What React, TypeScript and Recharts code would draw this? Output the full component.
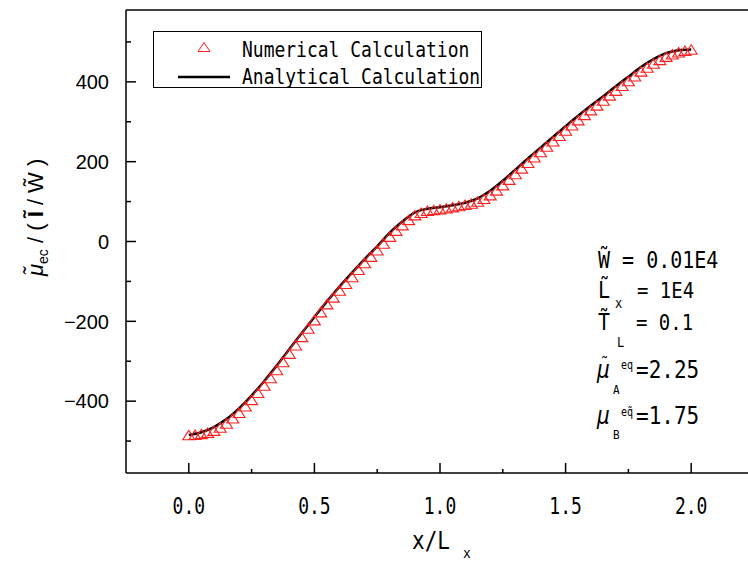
import React from 'react';
import { ComposedChart, Line, Scatter, XAxis, YAxis, Legend, ReferenceLine, Customized } from 'recharts';

const numX = [
  0, 0.025, 0.05, 0.075, 0.1, 0.125, 0.15, 0.175, 0.2, 0.225,
  0.25, 0.275, 0.3, 0.325, 0.35, 0.375, 0.4, 0.425, 0.45, 0.475,
  0.5, 0.525, 0.55, 0.575, 0.6, 0.625, 0.65, 0.675, 0.7, 0.725,
  0.75, 0.775, 0.8, 0.825, 0.85, 0.875, 0.9, 0.925, 0.95, 0.975,
  1.0, 1.025, 1.05, 1.075, 1.1, 1.125, 1.15, 1.175, 1.2, 1.225,
  1.25, 1.275, 1.3, 1.325, 1.35, 1.375, 1.4, 1.425, 1.45, 1.475,
  1.5, 1.525, 1.55, 1.575, 1.6, 1.625, 1.65, 1.675, 1.7, 1.725,
  1.75, 1.775, 1.8, 1.825, 1.85, 1.875, 1.9, 1.925, 1.95, 1.975, 2.0,
];
const numY = [
  -485, -484, -482, -479, -474, -466, -456, -443, -429, -413,
  -397, -379, -361, -342, -322, -302, -281, -260, -239, -218,
  -197, -177, -157, -140, -123, -106, -89, -71, -54, -38,
  -22, -5, 12, 27, 41, 54, 66, 72, 77, 79,
  81, 83, 86, 89, 92, 95, 100, 107, 116, 128,
  141, 155, 169, 183, 197, 211, 224, 238, 251, 265,
  278, 291, 304, 317, 329, 341, 353, 366, 378, 390,
  402, 414, 426, 436, 446, 455, 463, 469, 474, 478, 481,
];
const anaX = [
  0, 0.05, 0.1, 0.15, 0.2, 0.25, 0.3, 0.35, 0.4, 0.45,
  0.5, 0.55, 0.6, 0.65, 0.7, 0.75, 0.8, 0.85, 0.9, 0.95,
  1.0, 1.05, 1.1, 1.15, 1.2, 1.25, 1.3, 1.35, 1.4, 1.45,
  1.5, 1.55, 1.6, 1.65, 1.7, 1.75, 1.8, 1.85, 1.9, 1.95, 2.0,
];
const anaY = [
  -485, -478, -465, -445, -418, -386, -350, -311, -270, -229,
  -189, -150, -113, -78, -44, -12, 22, 50, 73, 82,
  86, 91, 97, 108, 127, 152, 180, 208, 235, 262,
  289, 315, 340, 364, 389, 413, 437, 457, 472, 479, 481,
];
const xTicks = [0, 0.25, 0.5, 0.75, 1, 1.25, 1.5, 1.75, 2];
const xMajor = [0, 0.5, 1, 1.5, 2];
const yTicks = [-500, -400, -300, -200, -100, 0, 100, 200, 300, 400, 500];
const yMajor = [-400, -200, 0, 200, 400];
const seriesNames = ['Numerical Calculation', 'Analytical Calculation'];

const numData = numX.map((x, i) => ({ x, y: numY[i] }));
const anaData = anaX.map((x, i) => ({ x, y: anaY[i] }));

const MONO = "'DejaVu Sans Mono', monospace";
const SANS = "'Liberation Sans', Arial, sans-serif";
const RED = '#ff1f1f';

function MText({ x, y, size, sy = 1.15, anchor = 'start', children, style }: any) {
  return (
    <text
      transform={`translate(${x},${y}) scale(1,${sy})`}
      fontFamily={MONO}
      fontSize={size}
      textAnchor={anchor}
      fill="#000"
      style={style}
    >
      {children}
    </text>
  );
}

const XTick = (props: any) => {
  const { x, y, payload } = props;
  const v = payload.value;
  const major = xMajor.includes(v);
  return (
    <g>
      <line x1={x} x2={x} y1={y} y2={y - (major ? 10 : 4)} stroke="#000" strokeWidth={1.5} />
      {major && (
        <MText x={x} y={y + 41} size={18} sy={1.25} anchor="middle">
          {v.toFixed(1)}
        </MText>
      )}
    </g>
  );
};

const YTick = (props: any) => {
  const { x, y, payload } = props;
  const v = payload.value;
  const major = yMajor.includes(v);
  return (
    <g>
      <line x1={x} x2={x + (major ? 10 : 5)} y1={y} y2={y} stroke="#000" strokeWidth={1.5} />
      {major && (
        <text x={x - 17} y={y} dy="0.36em" textAnchor="end" fontFamily={SANS} fontSize={20} fill="#000">
          {v < 0 ? '\u2212' + Math.abs(v) : String(v)}
        </text>
      )}
    </g>
  );
};

const XLabel = (props: any) => {
  const vb = props.viewBox || { x: 118, y: 465, width: 628, height: 60 };
  const cx = vb.x + vb.width / 2;
  return (
    <g>
      <MText x={cx - 28} y={vb.y + 76} size={21} sy={1.2}>x/L</MText>
      <MText x={cx + 23} y={vb.y + 85} size={13} sy={1.1}>x</MText>
    </g>
  );
};

const YLabel = () => (
  <text transform="translate(35,268) rotate(-90)" fontFamily={SANS} fontSize={22} fill="#000">
    <tspan fontStyle="italic">{'\u03bc\u0303'}</tspan>
    <tspan fontSize={14} dy={5}>ec</tspan>
    <tspan dy={-5}>{' / ( '}</tspan>
    <tspan fontWeight="bold">{'I\u0303'}</tspan>
    <tspan>{' / W\u0303 )'}</tspan>
  </text>
);

const LegendBox = () => (
  <svg width={329} height={60} style={{ display: 'block', overflow: 'visible' }}>
    <rect x={0.5} y={0.5} width={328} height={56} fill="#fff" stroke="#000" strokeWidth={1} />
    <path d="M51,11.5 L57,20.5 L45,20.5 Z" fill="none" stroke={RED} strokeWidth={1} />
    <line x1={25} x2={77} y1={46} y2={46} stroke="#000" strokeWidth={2.5} />
    <MText x={89} y={26} size={18}>{seriesNames[0]}</MText>
    <MText x={89} y={53} size={18}>{seriesNames[1]}</MText>
  </svg>
);

const Annotations = () => (
  <g>
    <MText x={590} y={260} size={20}>{'W\u0303 = 0.01E4'}</MText>
    <MText x={590} y={290} size={20}>{'L\u0303'}</MText>
    <MText x={607} y={300} size={12}>x</MText>
    <MText x={629} y={290} size={19}>= 1E4</MText>
    <MText x={590} y={322} size={20}>{'T\u0303'}</MText>
    <MText x={609} y={339} size={12}>L</MText>
    <MText x={628} y={322} size={19}>= 0.1</MText>
    <MText x={589} y={370} size={21} style={{ fontStyle: 'italic' }}>{'\u03bc'}</MText>
    <MText x={592} y={362} size={15}>{'\u02dc'}</MText>
    <MText x={613} y={361} size={10}>eq</MText>
    <MText x={605} y={386} size={11}>A</MText>
    <MText x={628} y={370} size={21}>=2.25</MText>
    <MText x={589} y={416} size={21} style={{ fontStyle: 'italic' }}>{'\u03bc'}</MText>
    <MText x={613} y={408} size={10}>{'eq\u0303'}</MText>
    <MText x={605} y={431} size={11}>B</MText>
    <MText x={628} y={416} size={21}>=1.75</MText>
  </g>
);

const Triangle = (props: any) => {
  const { cx, cy } = props;
  if (cx == null || cy == null) return null;
  return (
    <path
      d={`M${cx},${cy - 4.7} L${cx + 6},${cy + 4.7} L${cx - 6},${cy + 4.7} Z`}
      fill="none"
      stroke={RED}
      strokeWidth={1.1}
    />
  );
};

export default function App() {
  return (
    <div style={{ position: 'absolute', left: 8, top: 8, width: 740, height: 554, overflow: 'hidden', background: '#fff' }}>
      <ComposedChart width={760} height={554} margin={{ top: 2, right: 14, bottom: 29, left: 0 }}>
        <XAxis
          dataKey="x"
          type="number"
          domain={[-0.25, 2.25]}
          ticks={xTicks}
          allowDataOverflow
          height={60}
          tickLine={false}
          tickSize={0}
          tickMargin={0}
          axisLine={{ stroke: '#000', strokeWidth: 1.5 }}
          tick={<XTick />}
          interval={0}
          label={{ content: (p: any) => <XLabel {...p} /> }}
        />
        <YAxis
          dataKey="y"
          type="number"
          domain={[-580, 580]}
          ticks={yTicks}
          allowDataOverflow
          width={118}
          tickLine={false}
          tickSize={0}
          tickMargin={0}
          axisLine={{ stroke: '#000', strokeWidth: 1.5 }}
          tick={<YTick />}
          interval={0}
          label={{ content: () => <YLabel /> }}
        />
        <ReferenceLine y={580} stroke="#000" strokeWidth={1.5} />
        <ReferenceLine x={2.25} stroke="#000" strokeWidth={1.5} />
        <Scatter
          name={seriesNames[0]}
          data={numData}
          dataKey="y"
          shape={<Triangle />}
          isAnimationActive={false}
        />
        <Line
          name={seriesNames[1]}
          data={anaData}
          dataKey="y"
          type="monotone"
          stroke="#000"
          strokeWidth={2.5}
          dot={false}
          activeDot={false}
          isAnimationActive={false}
        />
        <Customized component={<Annotations />} />
        <Legend
          layout="vertical"
          align="center"
          verticalAlign="middle"
          width={329}
          height={60}
          wrapperStyle={{ left: 145, top: 23, width: 329, height: 60 }}
          content={() => <LegendBox />}
        />
      </ComposedChart>
    </div>
  );
}
